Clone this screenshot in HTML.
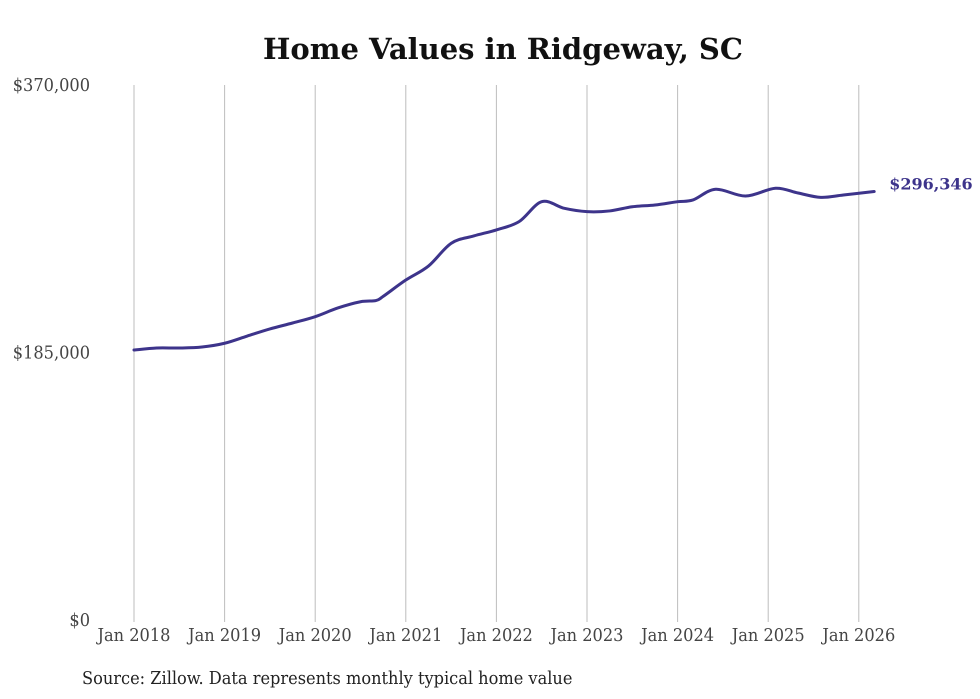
<!DOCTYPE html>
<html><head><meta charset="utf-8"><style>
html,body{margin:0;padding:0;background:#fff;}
svg{display:block;}
text{font-family:"DejaVu Serif","Liberation Serif",serif;}
</style></head><body>
<svg id="chart" width="980" height="699">
<text x="503" y="59" text-anchor="middle" font-size="29" font-weight="bold" fill="#111">Home Values in Ridgeway, SC</text>
<g id="grid"></g>
<g id="yaxis"></g>
<g id="xaxis"></g>
<path id="line" fill="none" stroke="#3d348b" stroke-width="3" stroke-linejoin="round" stroke-linecap="round"></path>
<text id="endlabel" font-size="16" font-weight="bold" fill="#3d348b"></text>
<text x="82" y="684" font-size="18" fill="#222" style="font-stretch:condensed">Source: Zillow. Data represents monthly typical home value</text>
</svg>
<script>
const dates=[2018.0,2018.25,2018.5,2018.75,2019.0,2019.25,2019.5,2019.75,2020.0,2020.25,2020.5,2020.67,2020.75,2021.0,2021.25,2021.5,2021.75,2022.0,2022.25,2022.5,2022.75,2023.0,2023.25,2023.5,2023.75,2024.0,2024.17,2024.42,2024.75,2025.08,2025.33,2025.58,2025.83,2026.17];
const values=[186700,188100,188100,188800,191400,196400,201300,205400,209800,215800,220100,220900,223800,235100,244800,260500,265600,269800,275500,289300,284700,282400,282900,285800,287000,289300,290500,297900,293200,298600,295300,292300,293900,296346];
const xTickLabels=["Jan 2018","Jan 2019","Jan 2020","Jan 2021","Jan 2022","Jan 2023","Jan 2024","Jan 2025","Jan 2026"];
const xTickYears=[2018,2019,2020,2021,2022,2023,2024,2025,2026];
const yTicks=[0,185000,370000];
const yTickLabels=["$0","$185,000","$370,000"];
const endLabel="$296,346";

const NS="http://www.w3.org/2000/svg";
const x=d=>134+(d-2018)*90.6;
const y=v=>620-v/370000*535;
function mk(tag,attrs,parent){const e=document.createElementNS(NS,tag);for(const k in attrs)e.setAttribute(k,attrs[k]);parent.appendChild(e);return e;}
const grid=document.getElementById('grid'),xa=document.getElementById('xaxis'),ya=document.getElementById('yaxis');
xTickYears.forEach((yr,i)=>{
  const l=mk('line',{x1:x(yr),x2:x(yr),y1:85,y2:622,stroke:'#bdbdbd','stroke-width':1},grid);
  
  
  const t=mk('text',{x:x(yr),y:641,'text-anchor':'middle','font-size':18,fill:'#444',style:'font-stretch:condensed'},xa);
  t.textContent=xTickLabels[i];
  
  
});
yTicks.forEach((v,i)=>{
  const t=mk('text',{x:90,y:y(v)+6,'text-anchor':'end','font-size':18,fill:'#444',style:'font-stretch:condensed'},ya);
  t.textContent=yTickLabels[i];
  
  
});
const pts=dates.map((d,i)=>[x(d),y(values[i])]);
let p=`M${pts[0][0]},${pts[0][1]}`;
for(let i=0;i<pts.length-1;i++){
  const p0=pts[Math.max(0,i-1)],p1=pts[i],p2=pts[i+1],p3=pts[Math.min(pts.length-1,i+2)];
  const c1=[p1[0]+(p2[0]-p0[0])/6,p1[1]+(p2[1]-p0[1])/6];
  const c2=[p2[0]-(p3[0]-p1[0])/6,p2[1]-(p3[1]-p1[1])/6];
  p+=` C${c1[0]},${c1[1]} ${c2[0]},${c2[1]} ${p2[0]},${p2[1]}`;
}
document.getElementById('line').setAttribute('d',p);
const el=document.getElementById('endlabel');
const last=pts[pts.length-1];
el.setAttribute('x',last[0]+15);el.setAttribute('y',last[1]-2);el.textContent=endLabel;
</script>
</body></html>
